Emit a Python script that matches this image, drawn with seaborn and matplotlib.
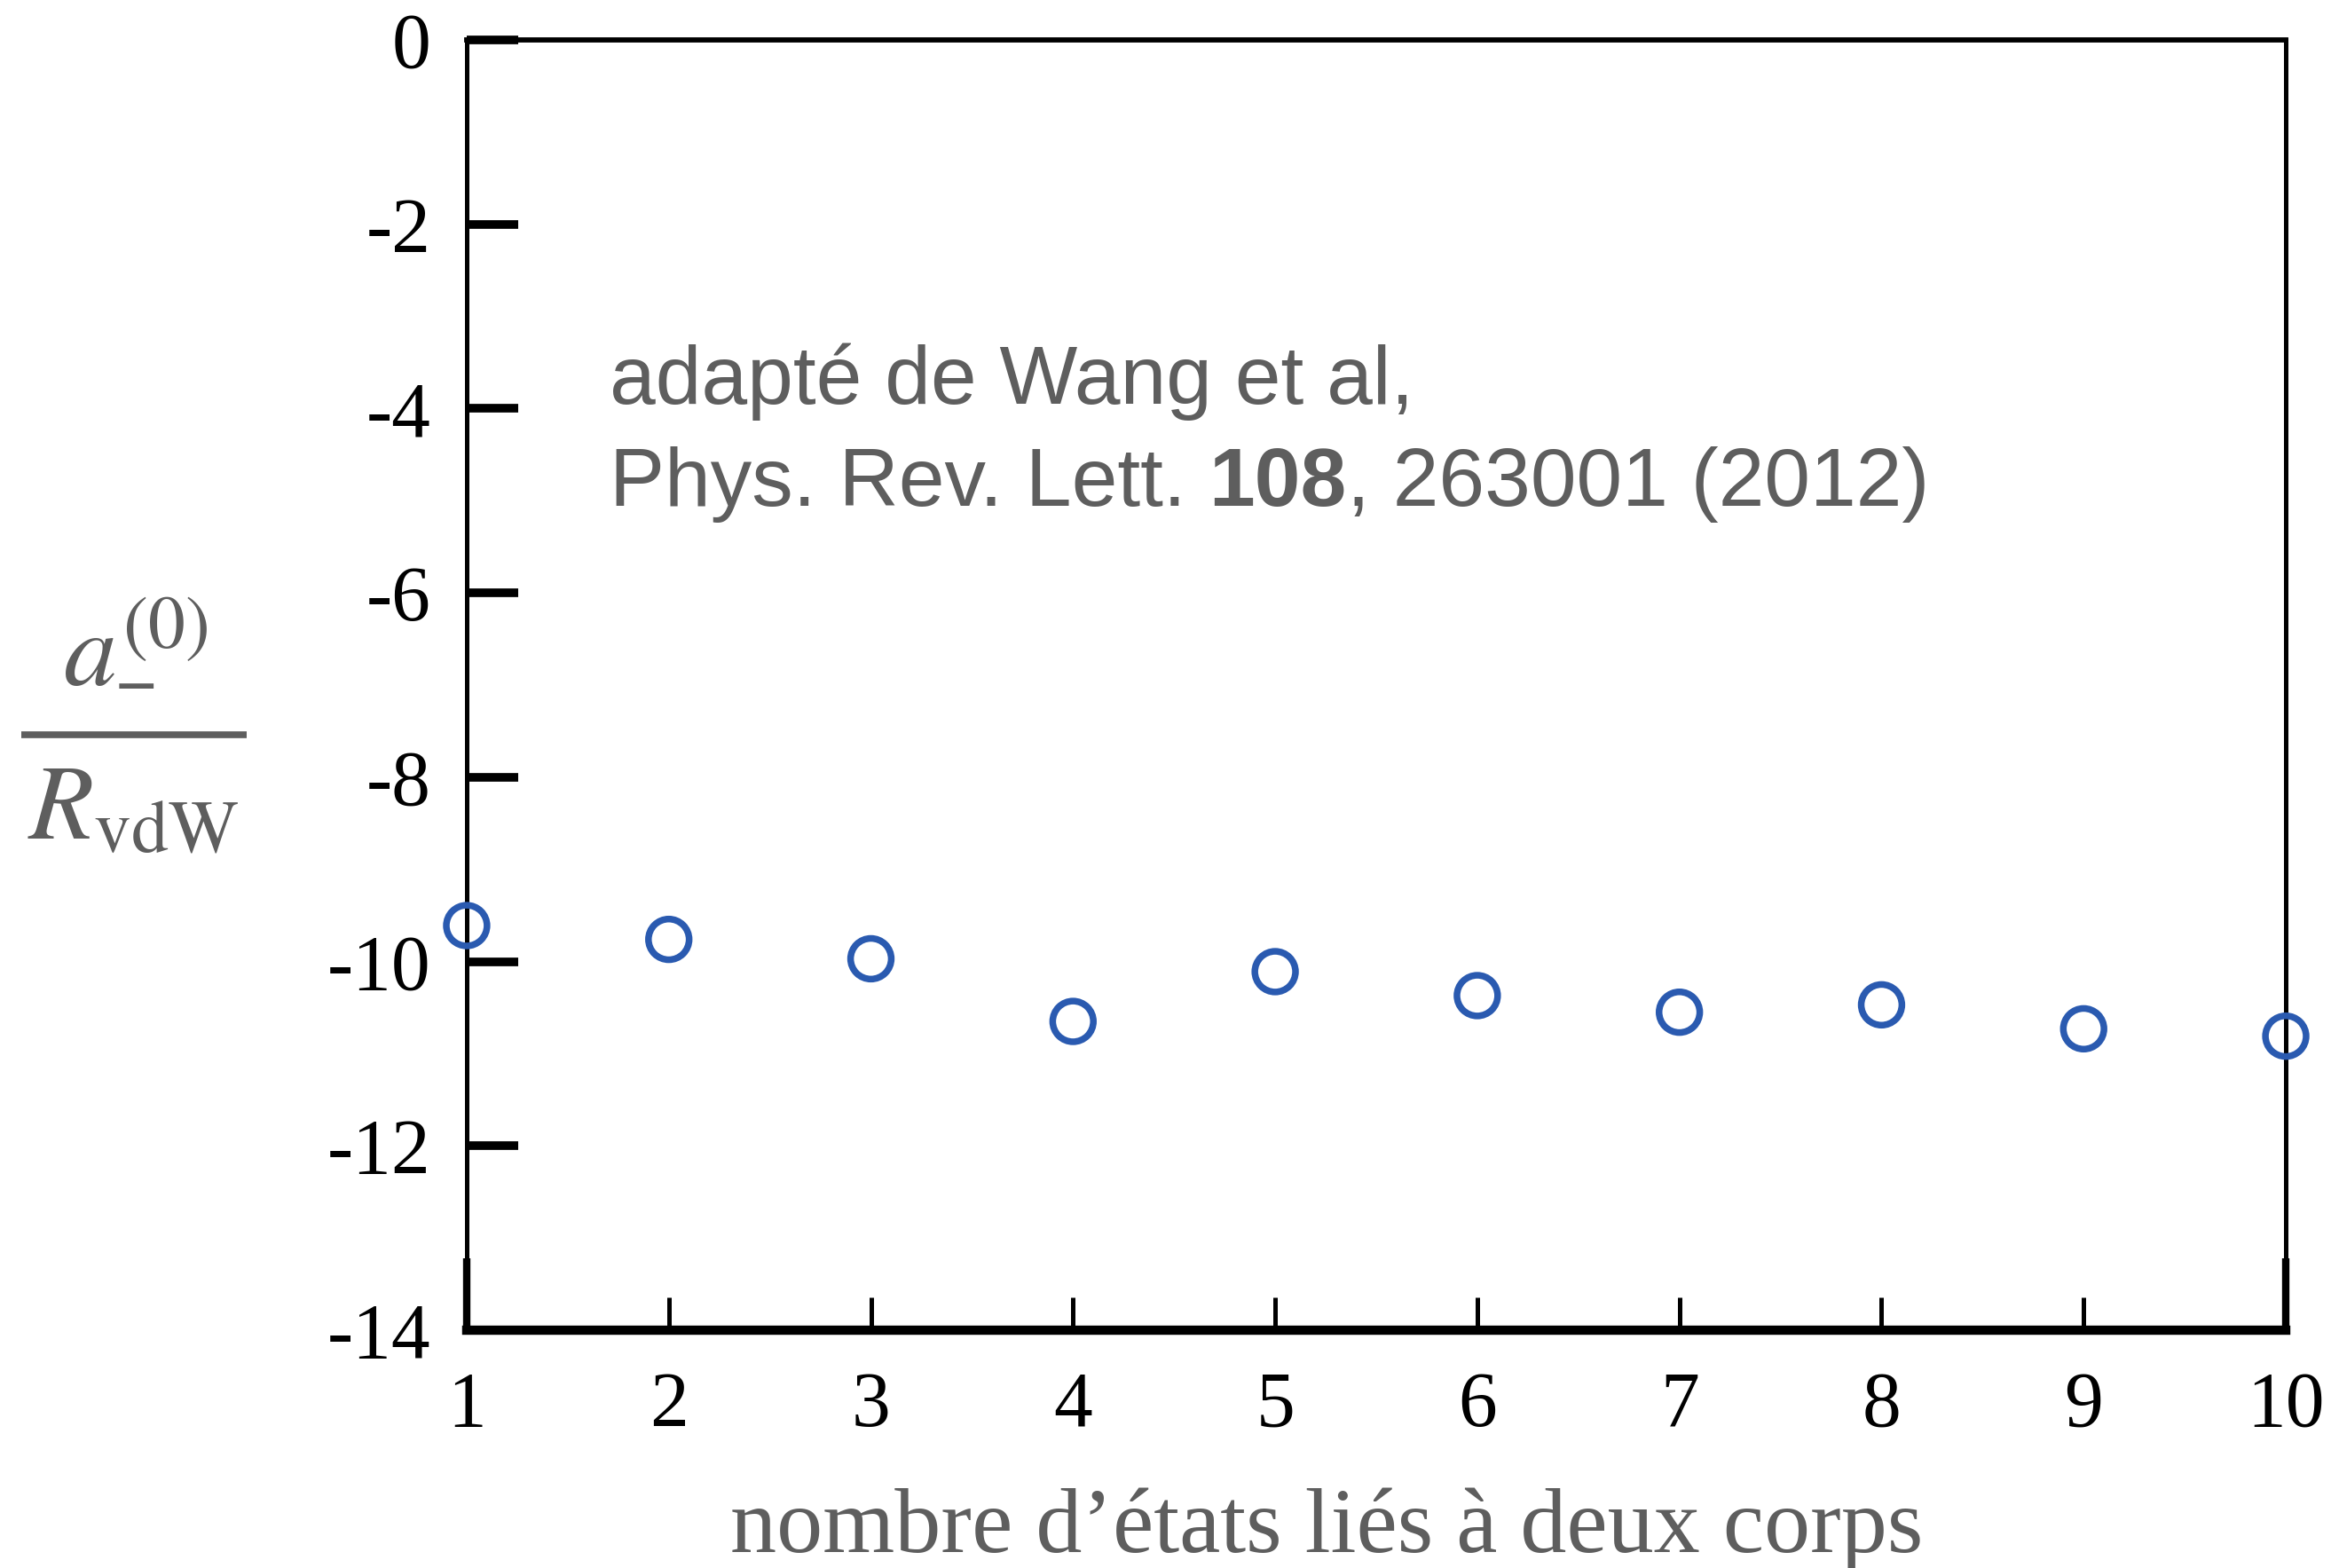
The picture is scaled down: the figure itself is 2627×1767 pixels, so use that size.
import matplotlib
matplotlib.use("Agg")
import matplotlib.pyplot as plt
from matplotlib.lines import Line2D
import seaborn as sns
import pandas as pd

# Number of two-body bound states and the scaled three-body parameter
n_states = [1, 2, 3, 4, 5, 6, 7, 8, 9, 10]
a_minus = [-9.61, -9.76, -9.97, -10.65, -10.11, -10.37, -10.55, -10.47, -10.73, -10.81]
x_ticks = [1, 2, 3, 4, 5, 6, 7, 8, 9, 10]
y_ticks = [0, -2, -4, -6, -8, -10, -12, -14]

df = pd.DataFrame({"n": n_states, "a": a_minus})

sns.set_style("ticks")
plt.rcParams["font.family"] = ["Liberation Serif", "DejaVu Serif"]
plt.rcParams["mathtext.fontset"] = "stix"

grey = "#5e5e5e"
blue = "#2a5ab0"

fig = plt.figure(figsize=(26.27, 17.67), dpi=100)
ax = fig.add_axes([0.2002, 0.1517, 0.7804, 0.8228])

sns.scatterplot(data=df, x="n", y="a", ax=ax, marker="o", s=33 ** 2,
                facecolors="none", edgecolor=blue, linewidth=5.4,
                clip_on=False, zorder=5, legend=False)

ax.set_xlim(1, 10)
ax.set_ylim(-14, 0)
ax.set_xticks(x_ticks)
ax.set_yticks(y_ticks)
ax.set_xticklabels([str(v) for v in x_ticks])
ax.set_yticklabels([str(v) for v in y_ticks])

for side, w in [("left", 3.6), ("top", 4.2), ("right", 3.6), ("bottom", 7.5)]:
    ax.spines[side].set_visible(True)
    ax.spines[side].set_linewidth(w)
    ax.spines[side].set_color("black")

ax.tick_params(axis="y", direction="in", length=42, width=7, pad=29,
               labelsize=63, colors="black", left=True, right=False)
ax.tick_params(axis="x", direction="in", length=27, width=3.6, pad=33,
               labelsize=63, colors="black", bottom=True, top=False)

# longer, heavier ticks at the two corners of the x axis
for t in (ax.xaxis.get_major_ticks()[0], ax.xaxis.get_major_ticks()[-1]):
    t.tick1line.set_markersize(58)
    t.tick1line.set_markeredgewidth(6)

ax.set_xlabel("")
ax.set_ylabel("")

# x-axis title
fig.text(0.569, 0.0102, "nombre d\u2019états liés à deux corps",
         color=grey, fontsize=75, ha="center", va="baseline")

# y-axis title written as a fraction: a_-^(0) / R_vdW
fig.text(0.058, 0.5625, r"$a^{(0)}$", color=grey, fontsize=86,
         ha="center", va="baseline")
fig.text(0.0584, 0.5467, "\u2212", color=grey, fontsize=60,
         fontweight="bold", ha="center", va="baseline")
fig.add_artist(Line2D([0.0092, 0.1058], [0.5315, 0.5315], color=grey,
                      linewidth=5.5, solid_capstyle="butt",
                      transform=fig.transFigure))
fig.text(0.057, 0.465, r"$R_{\mathrm{vdW}}$", color=grey, fontsize=86,
         ha="center", va="baseline")

# source note
sans = ["Liberation Sans", "DejaVu Sans"]
ax.text(0.0785, 0.718, "adapté de Wang et al,", transform=ax.transAxes,
        color=grey, fontsize=67, family=sans, ha="left", va="baseline")
ax.text(0.0785, 0.639, "Phys. Rev. Lett. ", transform=ax.transAxes,
        color=grey, fontsize=67, family=sans, ha="left", va="baseline")
fig.canvas.draw()
r = fig.canvas.get_renderer()
inv = ax.transAxes.inverted()
bb = ax.texts[-1].get_window_extent(r)
x_next = inv.transform((bb.x1, bb.y0))[0]
t2 = ax.text(x_next, 0.639, "108", transform=ax.transAxes, color=grey,
             fontsize=67, fontweight="bold", family=sans,
             ha="left", va="baseline")
bb2 = t2.get_window_extent(r)
x_next2 = inv.transform((bb2.x1, bb2.y0))[0]
ax.text(x_next2, 0.639, ", 263001 (2012)", transform=ax.transAxes, color=grey,
        fontsize=67, family=sans, ha="left", va="baseline")

fig.savefig("out.png", dpi=100, facecolor="white")
